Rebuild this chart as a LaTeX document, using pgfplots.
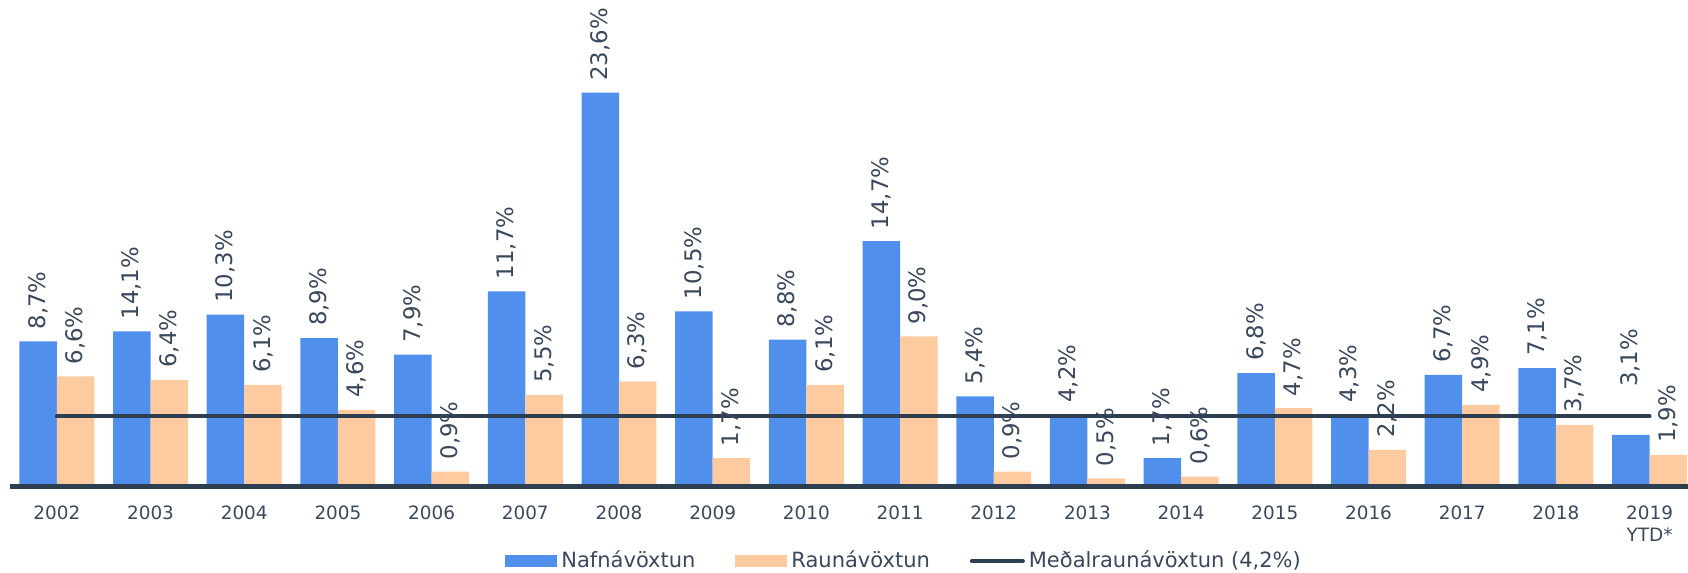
\documentclass[border=0pt]{standalone}
\usepackage{fontspec}
\setmainfont{DejaVu Sans}
\usepackage{pgfplots}
\pgfplotsset{compat=1.18}

\definecolor{nafn}{RGB}{81,143,236}
\definecolor{raun}{RGB}{254,203,161}
\definecolor{medal}{RGB}{44,62,80}
\definecolor{txt}{RGB}{58,72,92}

\begin{document}
\begin{tikzpicture}
\begin{axis}[
  at={(5pt,0pt)}, anchor=south west,
  scale only axis, width=839pt, height=243.3pt,
  xmin=-0.5, xmax=17.41, ymin=0, ymax=29.15,
  clip=false, axis on top,
  axis x line*=bottom, axis y line=none,
  x axis line style={line width=2.5pt, color=medal},
  xtick={0,...,17}, major tick length=0pt,
  xticklabels={2002,2003,2004,2005,2006,2007,2008,2009,2010,2011,2012,2013,2014,2015,2016,2017,2018,{2019\\YTD*}},
  xticklabel style={font=\fontsize{9.2}{11}\selectfont, text=txt, align=center, yshift=-6pt},
  legend columns=3,
  legend style={draw=none, fill=none, inner sep=0pt,
    at={(axis description cs:0.295,-0.153)}, anchor=west,
    font=\fontsize{10.5}{12}\selectfont, text=txt,
    /tikz/every even column/.append style={column sep=18pt}},
  every node near coord/.append style={font=\fontsize{11.4}{13}\selectfont, text=txt},
]
% Nafnávöxtun (bars sit 0.2 left of the category); off = extra label lift in pt
\addplot[ybar, bar width=18.75pt, bar shift=0pt, fill=nafn, draw=none,
  point meta=explicit symbolic, nodes near coords={\pgfplotspointmeta\%},
  visualization depends on={\thisrow{off} \as \off},
  nodes near coords style={rotate=90, anchor=west, inner xsep={5.85pt+\off*1pt}, inner ysep=0pt},
  legend image code/.code={\fill[nafn] (0pt,-3pt) rectangle (26pt,3pt);}]
  table[x=x, y=y, meta=lbl] {
x     y    lbl   off
-0.2  8.7  8,7   0
0.8   9.3  14,1  0
1.8   10.3 10,3  0
2.8   8.9  8,9   0
3.8   7.9  7,9   0
4.8   11.7 11,7  0
5.8   23.6 23,6  0
6.8   10.5 10,5  0
7.8   8.8  8,8   0
8.8   14.7 14,7  0
9.8   5.4  5,4   0
10.8  4.3  4,2   0
11.8  1.7  1,7   0
12.8  6.8  6,8   0
13.8  4.3  4,3   0
14.8  6.7  6,7   0
15.8  7.1  7,1   0
16.8  3.1  3,1   18
};
\addlegendentry{Nafnávöxtun}
% Raunávöxtun (bars sit 0.2 right of the category)
\addplot[ybar, bar width=18.75pt, bar shift=0pt, fill=raun, draw=none,
  point meta=explicit symbolic, nodes near coords={\pgfplotspointmeta\%},
  nodes near coords style={rotate=90, anchor=west, inner xsep=5.85pt, inner ysep=0pt},
  legend image code/.code={\fill[raun] (0pt,-3pt) rectangle (26pt,3pt);}]
  table[x=x, y=y, meta=lbl] {
x     y    lbl
0.2   6.6  6,6
1.2   6.4  6,4
2.2   6.1  6,1
3.2   4.6  4,6
4.2   0.9  0,9
5.2   5.5  5,5
6.2   6.3  6,3
7.2   1.7  1,7
8.2   6.1  6,1
9.2   9.0  9,0
10.2  0.9  0,9
11.2  0.5  0,5
12.2  0.6  0,6
13.2  4.7  4,7
14.2  2.2  2,2
15.2  4.9  4,9
16.2  3.7  3,7
17.2  1.9  1,9
};
\addlegendentry{Raunávöxtun}
% Meðalraunávöxtun
\addplot[line width=2pt, color=medal, line cap=round, mark=none,
  legend image code/.code={\draw[medal, line width=2pt, line cap=round] (1pt,0pt) -- (26.5pt,0pt);}]
  coordinates {(0,4.2) (17,4.2)};
\addlegendentry{Meðalraunávöxtun (4,2\%)}
\end{axis}
\pgfresetboundingbox
\path (0pt,-43.2pt) rectangle (844pt,243.3pt);
\end{tikzpicture}
\end{document}
